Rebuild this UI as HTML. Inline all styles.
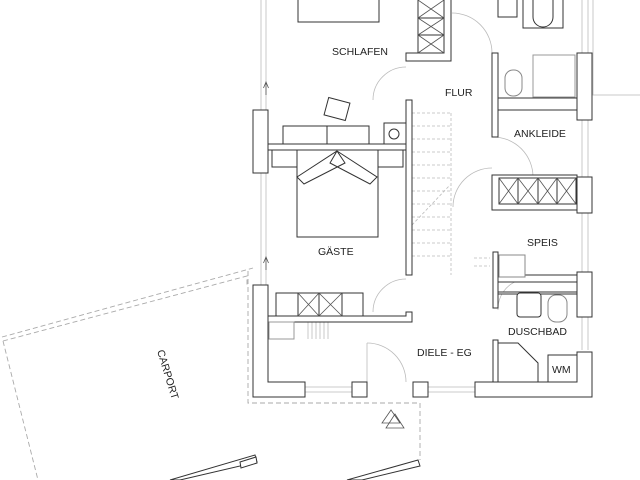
<!DOCTYPE html>
<html><head><meta charset="utf-8"><style>
html,body{margin:0;padding:0;background:#fff;width:640px;height:480px;overflow:hidden}
svg{display:block}
text{font-family:"Liberation Sans",sans-serif;font-size:10.5px;fill:#222}
</style></head><body>
<svg width="640" height="480" viewBox="0 0 640 480" xmlns="http://www.w3.org/2000/svg">
<g fill="none" stroke="#bbb" stroke-width="0.8">
 <line x1="261" y1="0" x2="261" y2="110"/><line x1="266" y1="0" x2="266" y2="110"/>
 <line x1="261" y1="173" x2="261" y2="285"/><line x1="266" y1="173" x2="266" y2="285"/>
 <path d="M582 0V350M588 0V350"/>
 <rect x="593" y="-2" width="50" height="97"/>
 <path d="M305 387H352M305 392H352M428 387H475M428 392H475"/>
 <path d="M373 100A33 33 0 0 1 406 67M452 13A40 40 0 0 1 492 53M493 137A40 40 0 0 1 533 177M453 207A39 39 0 0 1 492 168M373 312A33 33 0 0 1 406 279M367 343A39 39 0 0 1 406 382M498 310A30 30 0 0 1 520 280"/>
 <line x1="367" y1="343" x2="367" y2="382"/>
 <g stroke-dasharray="3,2">
  <path d="M412 113H451M412 126H451M412 139H451M412 152H451M412 165H451M412 178H451M412 191H451M412 204H451M412 217H451M412 230H451M412 243H451M412 256H451"/>
  <line x1="451" y1="113" x2="451" y2="275"/><line x1="412" y1="225" x2="450" y2="185"/>
  <path d="M474 258H490M474 266H490"/>
 </g>
 <path d="M308 322V339M312 322V339M316 322V339M320 322V339M324 322V339M328 322V339"/>
</g>
<g fill="none" stroke="#aaa" stroke-width="0.9" stroke-dasharray="5,3">
 <path d="M248 271V403H420V460"/>
 <path d="M2 337L253 268M3 341L247 276L247 285M3 341L38 480"/>
</g>
<g fill="#fff" stroke="#333" stroke-width="1">
 <rect x="298" y="-2" width="81" height="24"/>
 <path d="M444 -2V53H406V61H451V-2Z"/>
 <rect x="418" y="-2" width="26" height="20"/><rect x="418" y="18" width="26" height="17"/><rect x="418" y="35" width="26" height="18"/>
 <rect x="406" y="100" width="6" height="175"/>
 <rect x="253" y="110" width="15" height="63"/>
 <rect x="268" y="144" width="138" height="6"/>
 <rect x="283" y="126" width="44" height="18"/><rect x="327" y="126" width="42" height="18"/>
 <rect x="384" y="123" width="22" height="21"/><circle cx="394" cy="134" r="5"/>
 <rect x="326" y="100" width="22" height="18" transform="rotate(15 337 109)"/>
 <rect x="272" y="150" width="25" height="17"/><rect x="378" y="150" width="25" height="17"/>
 <rect x="297" y="150" width="81" height="87"/>
 <path d="M297 177L337 151L345 163L304 184Z M337 151L377 177L370 184L330 163Z"/>
 <path d="M492 53H498V137H492Z"/>
 <rect x="577" y="53" width="15" height="67"/>
 <rect x="498" y="98" width="79" height="12"/>
 <rect x="523" y="-2" width="40" height="30"/><path d="M533 -2V17A10 10 0 0 0 553 17V-2"/>
 <rect x="498" y="-2" width="19" height="19"/>
 <rect x="533" y="55" width="42" height="42" stroke="#999"/>
 <rect x="505" y="70" width="17" height="26" rx="8" stroke="#888"/>
 <rect x="492" y="175" width="85" height="35"/>
 <rect x="499" y="178" width="19" height="26"/><rect x="518" y="178" width="20" height="26"/><rect x="538" y="178" width="19" height="26"/><rect x="557" y="178" width="19" height="26"/>
 <rect x="577" y="177" width="15" height="36"/>
 <path d="M493 252H498V308H493Z"/>
 <rect x="498" y="275" width="79" height="7"/>
 <rect x="499" y="255" width="26" height="22" stroke="#888"/>
 <rect x="577" y="272" width="15" height="45"/>
 <rect x="498" y="292" width="79" height="2"/>
 <rect x="517" y="293" width="24" height="24" rx="3"/>
 <rect x="548" y="295" width="19" height="27" rx="8" stroke="#888"/>
 <rect x="493" y="340" width="5" height="45"/>
 <path d="M498 343H518L538 363V382H498Z"/>
 <rect x="548" y="355" width="29" height="27"/>
 <path d="M253 285H268V382H305V397H253Z"/>
 <rect x="276" y="293" width="22" height="23"/><rect x="298" y="293" width="21" height="23"/><rect x="319" y="293" width="23" height="23"/><rect x="342" y="293" width="21" height="23"/>
 <path d="M268 316H406V312H412V322H268Z"/>
 <rect x="269" y="322" width="25" height="17" stroke="#999"/>
 <rect x="352" y="382" width="15" height="15"/>
 <rect x="413" y="382" width="15" height="15"/>
 <path d="M475 382H577V352H592V397H475Z"/>
 <path d="M170 480L255 455L257 462L180 480Z"/>
 <path d="M347 480L418 460L420 466L362 480Z"/>
 <path d="M240 462L256 457L257 463L241 468Z"/>
</g>
<g fill="none" stroke="#555" stroke-width="0.8">
 <path d="M418 0L444 18M444 0L418 18M418 18L444 35M444 18L418 35M418 35L444 53M444 35L418 53"/>
 <path d="M499 178L518 204M518 178L499 204M518 178L538 204M538 178L518 204M538 178L557 204M557 178L538 204M557 178L576 204M576 178L557 204"/>
 <path d="M298 293L319 316M319 293L298 316M319 293L342 316M342 293L319 316"/>
 <path d="M382 423L391 410L400 423ZM386 428L395 414L404 428Z"/>
 <path d="M266 95V82M263.5 88L266 82L268.5 88"/>
 <path d="M266 270V257M263.5 263L266 257L268.5 263"/>
</g>
<text x="332" y="55">SCHLAFEN</text>
<text x="445" y="96">FLUR</text>
<text x="514" y="137">ANKLEIDE</text>
<text x="527" y="246">SPEIS</text>
<text x="318" y="255">GÄSTE</text>
<text x="508" y="335">DUSCHBAD</text>
<text x="417" y="356">DIELE - EG</text>
<text x="552" y="373">WM</text>
<text x="0" y="0" transform="translate(157 351) rotate(73)">CARPORT</text>
</svg>
</body></html>
